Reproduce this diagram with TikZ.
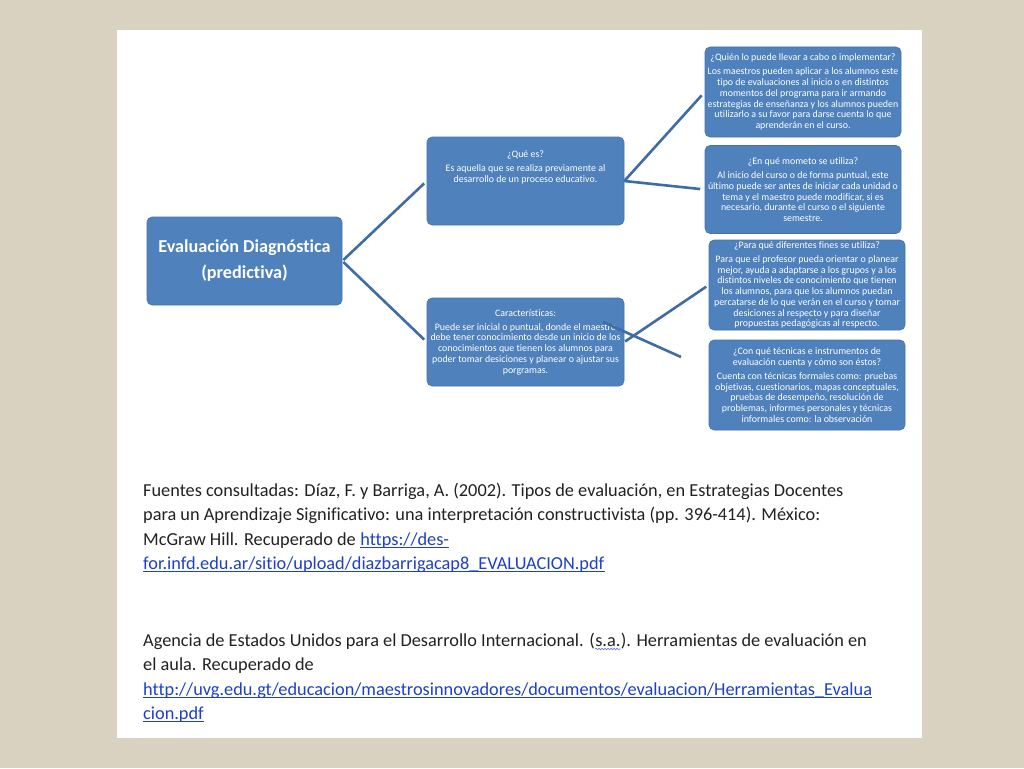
\documentclass[tikz,border=0pt]{standalone}
\usepackage{fontspec}
\setmainfont{Carlito}[Ligatures=NoCommon]
\usetikzlibrary{decorations.pathmorphing}
\definecolor{bgpaper}{HTML}{D9D2C0}
\definecolor{boxblue}{HTML}{4F81BD}
\definecolor{boxedge}{HTML}{4473AB}
\definecolor{connblue}{HTML}{3F6CA3}
\definecolor{reftext}{HTML}{222222}
\definecolor{linkblue}{HTML}{1E40C8}
\newcommand\smallboxfont{\fontsize{9.9}{10.7}\selectfont}
\begin{document}
\begin{tikzpicture}[x=1pt,y=-1pt,
  bluebox/.style={fill=boxblue, draw=boxedge, line width=0.6pt, rounded corners=5pt,
    text=white, align=center, inner sep=0pt, font=\smallboxfont},
  connline/.style={draw=connblue, line width=2.6pt},
  reftxt/.style={anchor=base west, inner sep=0pt, text=reftext, font=\fontsize{18.3}{24.5}\selectfont},
  reflink/.style={reftxt, text=linkblue},
  linkrule/.style={draw=linkblue, line width=1pt},
  spellwave/.style={draw=linkblue!70!white, line width=0.6pt, decorate,
    decoration={snake, amplitude=0.8pt, segment length=3pt}}]
\useasboundingbox (0,0) rectangle (1024,768);
\fill[bgpaper] (0,0) rectangle (1024,768);
\fill[white] (117,30) rectangle (922,738);

% main node
\node[bluebox, minimum width=195pt, minimum height=88pt,
  font=\bfseries\fontsize{18.2}{26}\selectfont] (main) at (244.5,261)
  {Evaluación Diagnóstica\\(predictiva)};

% middle boxes
\node[bluebox, minimum width=197pt, minimum height=88pt] (qbox) at (525.5,181)
  {\parbox[c][88pt][t]{195pt}{\centering\vspace*{13.5pt}¿Qué es?\\[4pt]
   Es aquella que se realiza previamente al\\
   desarrollo de un proceso educativo.}};
\node[bluebox, minimum width=197pt, minimum height=88pt] (cbox) at (525.5,342)
  {Características:\\[3.5pt]
   Puede ser inicial o puntual, donde el maestro\\
   debe tener conocimiento desde un inicio de los\\
   conocimientos que tienen los alumnos para\\
   poder tomar desiciones y planear o ajustar sus\\
   porgramas.};

% right boxes
\node[bluebox, minimum width=196pt, minimum height=90pt] (b1) at (803,92)
  {¿Quién lo puede llevar a cabo o implementar?\\[3.5pt]
   Los maestros pueden aplicar a los alumnos este\\
   tipo de evaluaciones al inicio o en distintos\\
   momentos del programa para ir armando\\
   estrategias de enseñanza y los alumnos pueden\\
   utilizarlo a su favor para darse cuenta lo que\\
   aprenderán en el curso.};
\node[bluebox, minimum width=196pt, minimum height=88pt] (b2) at (803,189.5)
  {¿En qué mometo se utiliza?\\[3.5pt]
   Al inicio del curso o de forma puntual, este\\
   último puede ser antes de iniciar cada unidad o\\
   tema y el maestro puede modificar, si es\\
   necesario, durante el curso o el siguiente\\
   semestre.};
\node[bluebox, minimum width=196pt, minimum height=90pt] (b3) at (807,285)
  {¿Para qué diferentes fines se utiliza?\\[3.5pt]
   Para que el profesor pueda orientar o planear\\
   mejor, ayuda a adaptarse a los grupos y a los\\
   distintos niveles de conocimiento que tienen\\
   los alumnos, para que los alumnos puedan\\
   percatarse de lo que verán en el curso y tomar\\
   desiciones al respecto y para diseñar\\
   propuestas pedagógicas al respecto.};
\node[bluebox, minimum width=196pt, minimum height=90pt] (b4) at (807,385)
  {¿Con qué técnicas e instrumentos de\\
   evaluación cuenta y cómo son éstos?\\[3.5pt]
   Cuenta con técnicas formales como: pruebas\\
   objetivas, cuestionarios, mapas conceptuales,\\
   pruebas de desempeño, resolución de\\
   problemas, informes personales y técnicas\\
   informales como: la observación};

% connectors
\draw[connline, shorten <=1.5pt, shorten >=3.5pt] (main.east) -- (qbox.west);
\draw[connline, shorten <=1.5pt, shorten >=3.5pt] (main.east) -- (cbox.west);
\draw[connline, shorten >=4.5pt] (qbox.east) -- (b1.west);
\draw[connline, shorten >=4.5pt] (qbox.east) -- (b2.west);
\draw[connline, shorten <=1pt, shorten >=3pt] (cbox.east) -- (b3.west);
\coordinate (xa) at (603,322);
\coordinate (xb) at (681,357);
\draw[connline] (xa) -- (xb);

% references
\node[reftxt] (r1a) at (143,496) {Fuentes consultadas: Díaz, F. y Barriga, A. (2002). Tipos de evaluación, en Estrategias Docentes};
\node[reftxt] (r1b) at (143,520.5) {para un Aprendizaje Significativo: una interpretación constructivista (pp. 396-414). México:};
\node[reftxt] (r1c) at (143,545) {McGraw Hill. Recuperado de};
\node[reflink] (r1d) at ([xshift=4.2pt]r1c.base east) {https://des-};
\node[reflink] (r1e) at (143,569) {for.infd.edu.ar/sitio/upload/diazbarrigacap8\_EVALUACION.pdf};
\draw[linkrule] ([yshift=-2.6pt]r1d.base west) -- ([yshift=-2.6pt]r1d.base east);
\draw[linkrule] ([yshift=-2.6pt]r1e.base west) -- ([yshift=-2.6pt]r1e.base east);

\node[reftxt] (r2a) at (143,646) {Agencia de Estados Unidos para el Desarrollo Internacional. (};
\node[reftxt] (r2b) at (r2a.base east) {s.a.};
\node[reftxt] (r2c) at (r2b.base east) {). Herramientas de evaluación en};
\draw[spellwave] ([yshift=-3pt]r2b.base west) -- ([yshift=-3pt]r2b.base east);
\node[reftxt] (r2d) at (143,670.5) {el aula. Recuperado de};
\node[reflink] (r2e) at (143,695) {http://uvg.edu.gt/educacion/maestrosinnovadores/documentos/evaluacion/Herramientas\_Evalua};
\node[reflink] (r2f) at (143,719) {cion.pdf};
\draw[linkrule] ([yshift=-2.6pt]r2e.base west) -- ([yshift=-2.6pt]r2e.base east);
\draw[linkrule] ([yshift=-2.6pt]r2f.base west) -- ([yshift=-2.6pt]r2f.base east);
\end{tikzpicture}
\end{document}
